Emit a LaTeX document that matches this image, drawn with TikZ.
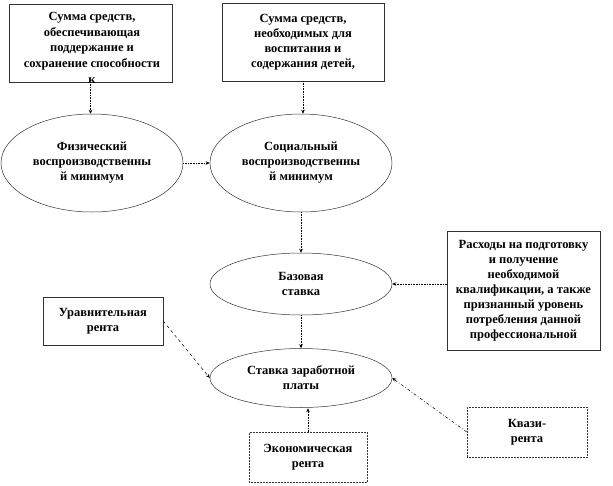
\documentclass[tikz,border=0pt]{standalone}
\usepackage{fontspec}
\setmainfont{Liberation Serif}
\usetikzlibrary{shapes.geometric,arrows.meta}
\tikzset{
  txt/.style={font=\bfseries\fontsize{12.5}{15}\selectfont, align=center, inner sep=0pt},
  box/.style={txt, draw=black!80, line width=0.5pt, rectangle},
  dbox/.style={box, densely dotted},
  oval/.style={txt, draw=black!80, line width=0.5pt, ellipse, minimum width=182pt},
  arr/.style={densely dotted, line width=0.6pt, -{Stealth[length=4pt,width=3.5pt]}},
  darr/.style={dashed, dash pattern=on 3pt off 3pt, line width=0.5pt, -{Stealth[length=4pt,width=3.5pt]}},
  ddarr/.style={dash pattern=on 3pt off 2pt on 0.8pt off 2pt, line width=0.5pt, -{Stealth[length=4pt,width=3.5pt]}}
}
\begin{document}
\begin{tikzpicture}[x=1pt,y=-1pt]
\useasboundingbox[fill=white] (0,0) rectangle (613,485);
% boxes
\node[box, minimum width=163pt, minimum height=78pt] (b1) at (90.5,43) {};
\begin{scope}
  \clip (b1.south west) rectangle (b1.north east);
  \node[txt, font=\bfseries\fontsize{12.5}{15.7}\selectfont, anchor=north] (b1t) at (92,12) {Сумма средств,\\обеспечивающая\\поддержание и\\сохранение способности\\к};
\end{scope}
\node[box, minimum width=162pt, minimum height=78pt] (b2) at (303,42) {Сумма средств,\\необходимых для\\воспитания и\\содержания детей,};
\node[box, minimum width=153pt, minimum height=119pt] (b3) at (523.5,290.5) {Расходы на подготовку\\и получение\\необходимой\\квалификации, а также\\признанный уровень\\потребления данной\\профессиональной};
\node[box, minimum width=120pt, minimum height=48pt] (b4) at (103,321) {Уравнительная\\рента};
\node[dbox, minimum width=118pt, minimum height=50pt] (b5) at (308,457) {Экономическая\\рента};
\node[dbox, minimum width=120pt, minimum height=50pt] (b6) at (527,432) {Квази-\\рента};
% ellipses
\node[oval, minimum height=98pt] (e1) at (92,163) {Физический\\воспроизводственны\\й минимум};
\node[oval, minimum height=98pt] (e2) at (301,163) {Социальный\\воспроизводственны\\й минимум};
\node[oval, minimum height=62pt] (e3) at (301,284) {Базовая\\ставка};
\node[oval, minimum height=59pt] (e4) at (301,378) {Ставка заработной\\платы};
% connectors
\draw[arr] (b1.south) -- (b1.south |- e1.north);
\draw[arr] (b2.south) -- (b2.south |- e2.north);
\draw[arr] (e1.east) -- (e2.west);
\draw[arr] (e2.south) -- (e3.north);
\draw[arr] (b3.west |- e3.east) -- (e3.east);
\draw[arr] (e3.south) -- (e4.north);
\draw[darr] (b4.east) -- (e4.west);
\draw[arr] (b5.north) -- ([yshift=-0.5pt]b5.north |- e4.south);
\draw[ddarr] (b6.west) -- (e4.east);
\end{tikzpicture}
\end{document}
